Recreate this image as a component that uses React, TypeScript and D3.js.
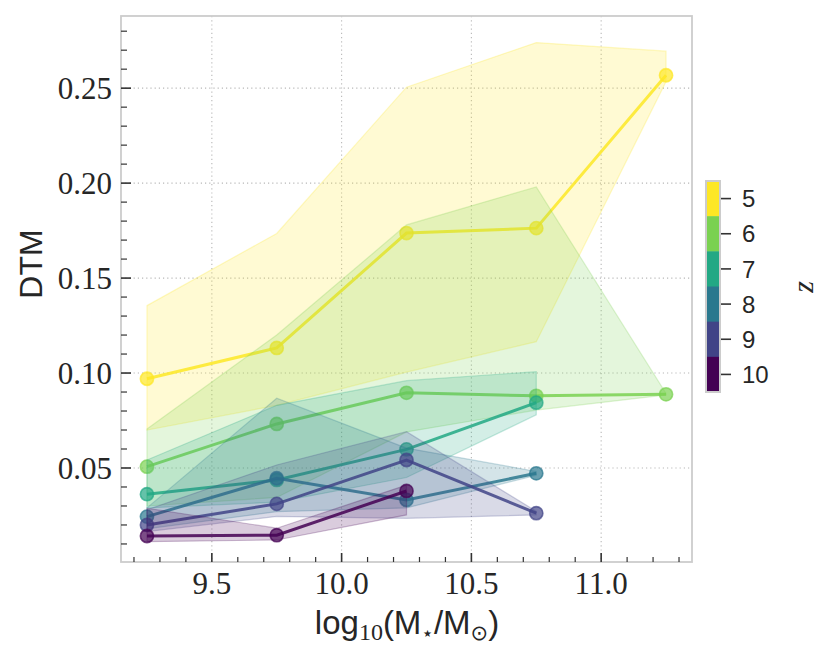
import React, { useEffect, useRef } from 'react';
import * as d3 from 'd3';

// stellar mass bins (log10 M*/Msun) and redshift of each curve
const massBins = [9.25, 9.75, 10.25, 10.75, 11.25];
const redshifts = [5, 6, 7, 8, 9, 10];
const zColors = ['#fde725', '#7ad151', '#22a884', '#2a788e', '#414487', '#440154'];

// median DTM per redshift (one row per z, one value per mass bin)
const dtmMedian = [
    [0.097, 0.1132, 0.1737, 0.1763, 0.2568],
    [0.0507, 0.0732, 0.0896, 0.088, 0.0888],
    [0.0362, 0.0437, 0.0598, 0.0844],
    [0.0244, 0.0446, 0.0332, 0.0472],
    [0.020, 0.0311, 0.0542, 0.0262],
    [0.0142, 0.0146, 0.0379],
];
// lower / upper percentiles (shaded band)
const dtmLow = [
    [0.070, 0.083, 0.1005, 0.1165, 0.2535],
    [0.030, 0.0345, 0.069, 0.0805, 0.0885],
    [0.029, 0.032, 0.045, 0.078],
    [0.018, 0.027, 0.029, 0.0462],
    [0.0165, 0.0245, 0.0235, 0.0253],
    [0.0112, 0.0121, 0.0253],
];
const dtmHigh = [
    [0.1355, 0.1735, 0.2505, 0.274, 0.2695],
    [0.0705, 0.120, 0.178, 0.198, 0.0892],
    [0.0542, 0.083, 0.096, 0.1007],
    [0.029, 0.0867, 0.0605, 0.0482],
    [0.028, 0.0516, 0.0691, 0.0272],
    [0.0288, 0.0183, 0.041],
];

const xTicks = [9.5, 10.0, 10.5, 11.0];
const yTicks = [0.05, 0.10, 0.15, 0.20, 0.25];

const serif = "'Liberation Serif', 'DejaVu Serif', serif";
const sans = "'Liberation Sans', 'DejaVu Sans', sans-serif";

type Pt = { x: number; lo: number; hi: number; med: number };

const App: React.FC = () => {
    const svgRef = useRef<SVGSVGElement>(null);

    useEffect(() => {
        if (!svgRef.current) return;
        const svg = d3.select(svgRef.current);
        svg.selectAll('*').remove();

        const left = 121, right = 692, top = 16, bottom = 562;

        const x = d3.scaleLinear().domain([9.15, 11.35]).range([left, right]);
        const y = d3.scaleLinear().domain([0.0005, 0.288]).range([bottom, top]);

        // grid
        const grid = svg.append('g');
        grid.selectAll('.gx').data(xTicks).enter().append('line')
            .attr('x1', d => x(d)).attr('x2', d => x(d))
            .attr('y1', top).attr('y2', bottom)
            .style('stroke', '#b8b8b8').style('stroke-width', 1.1)
            .style('stroke-dasharray', '1.2,3');
        grid.selectAll('.gy').data(yTicks).enter().append('line')
            .attr('x1', left).attr('x2', right)
            .attr('y1', d => y(d)).attr('y2', d => y(d))
            .style('stroke', '#b8b8b8').style('stroke-width', 1.1)
            .style('stroke-dasharray', '1.2,3');

        const area = d3.area<Pt>()
            .x(d => x(d.x))
            .y0(d => y(d.lo))
            .y1(d => y(d.hi));
        const line = d3.line<Pt>()
            .x(d => x(d.x))
            .y(d => y(d.med));

        redshifts.forEach((_, k) => {
            const pts: Pt[] = dtmMedian[k].map((m, i) => ({
                x: massBins[i], med: m, lo: dtmLow[k][i], hi: dtmHigh[k][i],
            }));
            const c = zColors[k];
            const g = svg.append('g');

            g.append('path')
                .datum(pts)
                .attr('d', area)
                .style('fill', c).style('fill-opacity', 0.2)
                .style('stroke', c).style('stroke-opacity', 0.25)
                .style('stroke-width', 1.2);

            g.append('path')
                .datum(pts)
                .attr('d', line)
                .style('fill', 'none')
                .style('stroke', c).style('stroke-opacity', 0.85)
                .style('stroke-width', 3);

            g.selectAll('circle').data(pts).enter().append('circle')
                .attr('cx', d => x(d.x)).attr('cy', d => y(d.med))
                .attr('r', 6.6)
                .style('fill', c).style('fill-opacity', 0.7)
                .style('stroke', c).style('stroke-opacity', 0.7)
                .style('stroke-width', 1.6);
        });

        // frame
        svg.append('rect')
            .attr('x', left).attr('y', top)
            .attr('width', right - left).attr('height', bottom - top)
            .style('fill', 'none').style('stroke', '#cccccc').style('stroke-width', 1.8);

        // ticks (inward)
        const tickColor = '#333';
        const isMajor = (ticks: number[], d: number) => ticks.some(t => Math.abs(t - d) < 1e-6);
        const xMinor = d3.range(92, 114).map(d => d / 10);
        const yMinor = d3.range(1, 29).map(d => d / 100);
        svg.append('g').selectAll('line').data(xMinor).enter().append('line')
            .attr('x1', d => x(d)).attr('x2', d => x(d))
            .attr('y1', bottom).attr('y2', d => bottom - (isMajor(xTicks, d) ? 9 : 5))
            .style('stroke', tickColor).style('stroke-width', d => isMajor(xTicks, d) ? 1.6 : 1.2);
        svg.append('g').selectAll('line').data(yMinor).enter().append('line')
            .attr('y1', d => y(d)).attr('y2', d => y(d))
            .attr('x1', left).attr('x2', d => left + (isMajor(yTicks, d) ? 10 : 6))
            .style('stroke', tickColor).style('stroke-width', d => isMajor(yTicks, d) ? 1.6 : 1.2);

        // tick labels
        svg.append('g').selectAll('text').data(xTicks).enter().append('text')
            .attr('x', d => x(d)).attr('y', 594)
            .attr('text-anchor', 'middle')
            .attr('font-family', serif).attr('font-size', 31).attr('fill', '#262626')
            .text(d => d3.format('.1f')(d));
        svg.append('g').selectAll('text').data(yTicks).enter().append('text')
            .attr('x', 112).attr('y', d => y(d))
            .attr('dy', '0.34em')
            .attr('text-anchor', 'end')
            .attr('font-family', serif).attr('font-size', 31).attr('fill', '#262626')
            .text(d => d3.format('.2f')(d));

        // axis labels
        svg.append('text')
            .attr('transform', 'translate(42,264) rotate(-90)')
            .attr('text-anchor', 'middle')
            .attr('font-family', sans).attr('font-size', 32).attr('fill', '#262626')
            .text('DTM');

        const xl = svg.append('text')
            .attr('x', 407).attr('y', 634)
            .attr('text-anchor', 'middle')
            .attr('font-family', sans).attr('font-size', 33).attr('fill', '#262626');
        xl.append('tspan').text('log');
        xl.append('tspan').attr('dy', 6).attr('font-family', serif).attr('font-size', 24).text('10');
        xl.append('tspan').attr('dy', -6).text('(M');
        xl.append('tspan').attr('dy', 6).attr('font-size', 20).text('\u22c6');
        xl.append('tspan').attr('dy', -6).text('/M');
        xl.append('tspan').attr('dy', 6).attr('font-size', 21).text('\u2299');
        xl.append('tspan').attr('dy', -6).text(')');

        // colorbar
        const cbX = 706, cbW = 14, cbTop = 181, cbBottom = 392;
        const cb = d3.scaleBand<number>().domain(redshifts).range([cbTop, cbBottom]);
        const cbg = svg.append('g');
        cbg.selectAll('rect').data(redshifts).enter().append('rect')
            .attr('x', cbX).attr('y', d => cb(d)!)
            .attr('width', cbW).attr('height', cb.bandwidth() + 0.5)
            .style('fill', (_, i) => zColors[i]);
        cbg.append('rect')
            .attr('x', cbX).attr('y', cbTop).attr('width', cbW).attr('height', cbBottom - cbTop)
            .style('fill', 'none').style('stroke', '#cccccc').style('stroke-width', 2);
        cbg.selectAll('line').data(redshifts).enter().append('line')
            .attr('x1', cbX + cbW + 1).attr('x2', cbX + cbW + 11)
            .attr('y1', d => cb(d)! + cb.bandwidth() / 2).attr('y2', d => cb(d)! + cb.bandwidth() / 2)
            .style('stroke', tickColor).style('stroke-width', 1.6);
        cbg.selectAll('text').data(redshifts).enter().append('text')
            .attr('x', cbX + cbW + 22).attr('y', d => cb(d)! + cb.bandwidth() / 2)
            .attr('dy', '0.36em')
            .attr('font-family', sans).attr('font-size', 24).attr('fill', '#262626')
            .text(d => String(d));
        svg.append('text')
            .attr('transform', 'translate(804,287) rotate(-90)')
            .attr('text-anchor', 'middle')
            .attr('dy', '0.3em')
            .attr('font-family', serif).attr('font-style', 'italic')
            .attr('font-size', 30).attr('fill', '#262626')
            .text('z');
    }, []);

    return (
        <svg
            ref={svgRef}
            width={832}
            height={661}
            style={{ position: 'absolute', left: 0, top: 0, background: '#fff' }}
        />
    );
};

export default App;
